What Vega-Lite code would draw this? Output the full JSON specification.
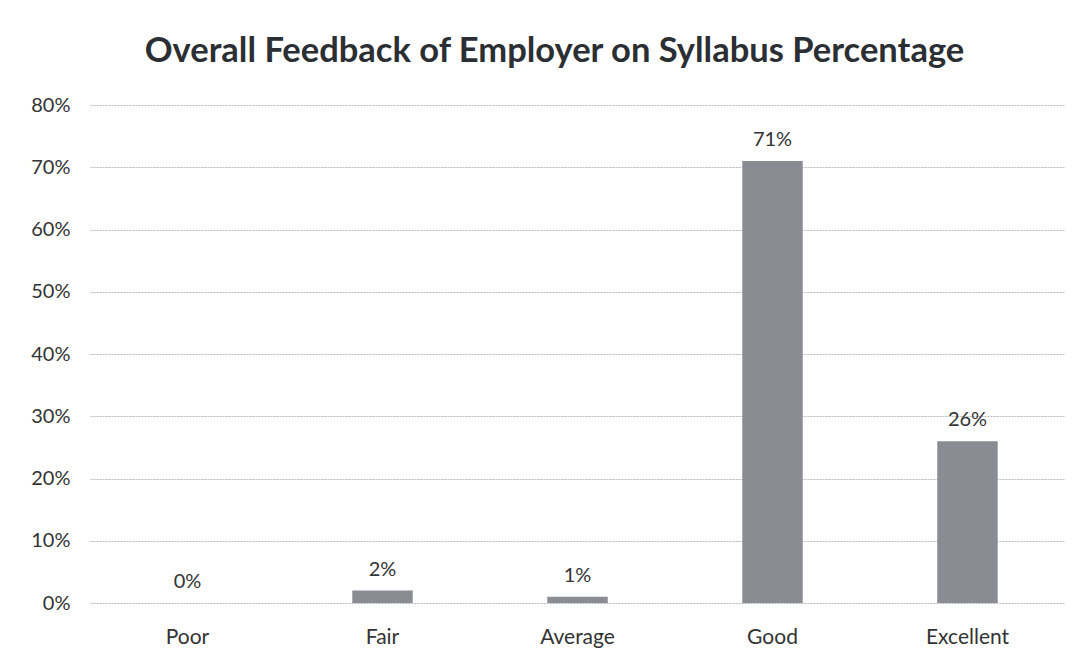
{
  "$schema": "https://vega.github.io/schema/vega-lite/v6.json",
  "width": 975,
  "height": 498,
  "autosize": {"type": "none"},
  "padding": {"left": 90, "top": 105, "right": 24, "bottom": 62},
  "background": "white",
  "config": {"view": {"stroke": null}, "font": "Lato"},
  "title": {
    "text": "Overall Feedback of Employer on Syllabus Percentage",
    "fontSize": 34.5,
    "fontWeight": "bold",
    "color": "#2b2f33",
    "anchor": "middle",
    "offset": 26,
    "dx": -23
  },
  "data": {
    "values": [
      {"rating": "Poor", "pct": 0.0},
      {"rating": "Fair", "pct": 0.02},
      {"rating": "Average", "pct": 0.01},
      {"rating": "Good", "pct": 0.71},
      {"rating": "Excellent", "pct": 0.26}
    ]
  },
  "encoding": {
    "x": {
      "field": "rating",
      "type": "nominal",
      "sort": null,
      "scale": {"paddingInner": 0.69, "paddingOuter": 0.345},
      "axis": {
        "title": null,
        "labelAngle": 0,
        "labelFontSize": 21,
        "labelColor": "#333333",
        "labelPadding": 23,
        "domain": false,
        "ticks": false
      }
    },
    "y": {
      "field": "pct",
      "type": "quantitative",
      "scale": {"domain": [0, 0.8], "nice": false},
      "axis": {
        "title": null,
        "values": [0, 0.1, 0.2, 0.3, 0.4, 0.5, 0.6, 0.7, 0.8],
        "format": ".0%",
        "labelFontSize": 20,
        "labelColor": "#333333",
        "labelPadding": 20,
        "domain": false,
        "ticks": false,
        "gridColor": "#b8b8b8",
        "gridDash": [2, 1],
        "gridWidth": 1
      }
    }
  },
  "layer": [
    {"mark": {"type": "bar", "color": "#8a8c94"}},
    {
      "mark": {"type": "text", "dy": -11, "fontSize": 20, "color": "#333333", "baseline": "bottom"},
      "encoding": {"text": {"field": "pct", "type": "quantitative", "format": ".0%"}}
    }
  ]
}
